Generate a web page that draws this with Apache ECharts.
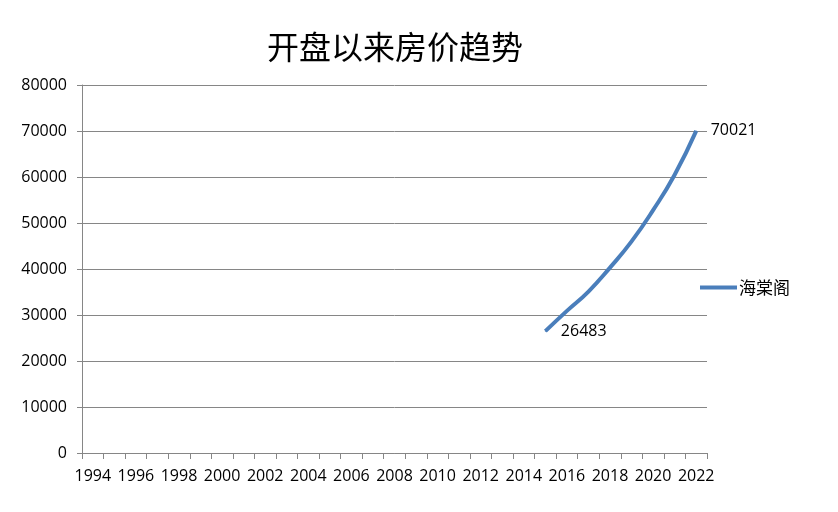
<!DOCTYPE html>
<html>
<head>
<meta charset="utf-8">
<script src="https://cdn.jsdelivr.net/npm/echarts@6/dist/echarts.min.js"></script>
<style>html,body{margin:0;padding:0;background:#fff;}#c{width:838px;height:512px;}</style>
</head>
<body>
<div id="c"></div>
<script>
var titleText = '开盘以来房价趋势';
var seriesName = '海棠阁';
var years = [];
for (var y = 1994; y <= 2022; y++) years.push(String(y));
var prices = [null,null,null,null,null,null,null,null,null,null,null,null,null,null,null,null,null,null,null,null,null,
  26483, 30900, 35100, 40300, 46000, 52800, 60500, 70021];
var yMin = 0, yMax = 80000, yStep = 10000;

var firstIdx = prices.findIndex(function (p) { return p !== null; });
var labelled = prices.map(function (v, i) {
  if (v === null) return null;
  if (i === firstIdx || i === prices.length - 1) {
    return { value: v, label: { show: true, position: 'right', distance: i === firstIdx ? 15 : 14 } };
  }
  return v;
});

var chart = echarts.init(document.getElementById('c'));
chart.setOption({
  animation: false,
  backgroundColor: '#fff',
  title: {
    text: titleText,
    left: 390, top: 26, textAlign: 'center',
    textStyle: { fontFamily: 'Noto Sans CJK SC', fontSize: 32, fontWeight: 'normal', color: '#000' }
  },
  legend: {
    data: [{ name: seriesName, icon: 'rect' }],
    orient: 'vertical',
    left: 695, top: 274,
    itemWidth: 37, itemHeight: 4, itemGap: 6,
    textStyle: { fontFamily: 'Noto Sans CJK SC', fontSize: 17, color: '#000', padding: [0, 0, 0, -3] }
  },
  grid: { left: 82, right: 131, top: 85, bottom: 59, containLabel: false },
  xAxis: {
    type: 'category',
    data: years,
    boundaryGap: true,
    axisLine: { lineStyle: { color: '#868686', width: 1 } },
    axisTick: { show: true, interval: 0, length: 6, lineStyle: { color: '#868686' } },
    axisLabel: { interval: 1, margin: 15, fontFamily: 'Open Sans', fontSize: 16, color: '#000' },
    splitLine: { show: false }
  },
  yAxis: {
    type: 'value',
    min: yMin, max: yMax, interval: yStep,
    axisLine: { show: true, lineStyle: { color: '#868686', width: 1 } },
    axisTick: { show: true, length: 5, lineStyle: { color: '#868686' } },
    axisLabel: { margin: 15, fontFamily: 'Open Sans', fontSize: 16, color: '#000', formatter: function (v) { return String(v); } },
    splitLine: { show: true, lineStyle: { color: '#868686', width: 1 } }
  },
  series: [{
    name: seriesName,
    type: 'line',
    data: labelled,
    smooth: 0.5,
    symbol: 'circle',
    symbolSize: 1,
    showSymbol: true,
    lineStyle: { color: '#4A7EBB', width: 4 },
    itemStyle: { color: '#4A7EBB' },
    label: { show: false, fontFamily: 'Open Sans', fontSize: 16, color: '#000' }
  }]
});
</script>
</body>
</html>
